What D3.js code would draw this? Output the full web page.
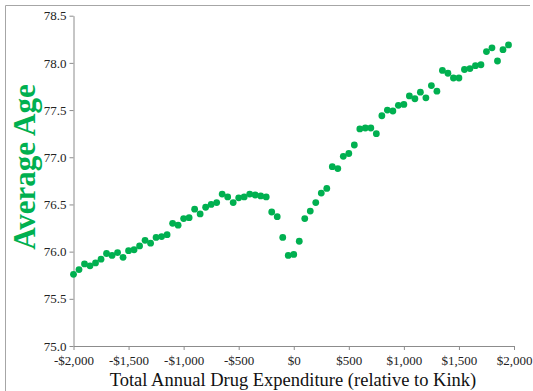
<!DOCTYPE html>
<html>
<head>
<meta charset="utf-8">
<script src="https://cdn.jsdelivr.net/npm/d3@7"></script>
<style>
  html, body { margin: 0; padding: 0; background: #fff; }
  svg { display: block; }
</style>
</head>
<body>
<svg id="chart" width="533" height="391"></svg>
<script>
// Bin centres of total annual drug expenditure, relative to the kink ($)
const expenditure = d3.range(-2000, 2000, 50);

// Average age of enrollees in each bin
const averageAge = [
  75.76, 75.81, 75.87, 75.85, 75.88, 75.92, 75.98, 75.96, 75.99, 75.94,
  76.01, 76.02, 76.06, 76.12, 76.09, 76.15, 76.16, 76.18, 76.30, 76.28,
  76.35, 76.36, 76.45, 76.40, 76.47, 76.50, 76.52, 76.61, 76.58, 76.52,
  76.57, 76.58, 76.61, 76.60, 76.59, 76.58, 76.42, 76.37, 76.15, 75.96,
  75.97, 76.11, 76.35, 76.43, 76.52, 76.62, 76.67, 76.90, 76.88, 77.01,
  77.04, 77.13, 77.30, 77.31, 77.31, 77.25, 77.44, 77.50, 77.49, 77.55,
  77.56, 77.65, 77.62, 77.69, 77.63, 77.76, 77.70, 77.92, 77.89, 77.84,
  77.84, 77.93, 77.94, 77.97, 77.98, 78.12, 78.16, 78.02, 78.14, 78.19
];

const xTicks = [-2000, -1500, -1000, -500, 0, 500, 1000, 1500, 2000];
const yTicks = [75.0, 75.5, 76.0, 76.5, 77.0, 77.5, 78.0, 78.5];

const xTitle = "Total Annual Drug Expenditure (relative to Kink)";
const yTitle = "Average Age";

const svg = d3.select("#chart");
const serif = "'Liberation Serif', 'Times New Roman', serif";
const axisGray = "#8c8c8c";
const green = "#00b050";

// outer frame
svg.append("line").attr("x1", 5.5).attr("x2", 530).attr("y1", 5.5).attr("y2", 5.5)
  .attr("stroke", "#a6a6a6").attr("stroke-width", 1);
svg.append("line").attr("x1", 5.5).attr("x2", 5.5).attr("y1", 5.5).attr("y2", 391)
  .attr("stroke", "#a6a6a6").attr("stroke-width", 1);

const x = d3.scaleLinear().domain([-2000, 2000]).range([73.5, 514]);
const y = d3.scaleLinear().domain([75, 78.5]).range([346, 15.7]);

const fmtMoney = d => (d < 0 ? "-" : "") + "$" + d3.format(",")(Math.abs(d));

const xAxis = svg.append("g")
  .attr("transform", `translate(0,${y(75)})`)
  .call(d3.axisBottom(x).tickValues(xTicks).tickFormat(fmtMoney).tickSize(4).tickSizeOuter(0));

const yAxis = svg.append("g")
  .attr("transform", `translate(${x(-2000)},0)`)
  .call(d3.axisLeft(y).tickValues(yTicks).tickFormat(d3.format(".1f")).tickSize(4).tickSizeOuter(0));

[xAxis, yAxis].forEach(g => {
  g.attr("font-family", serif);
  g.select(".domain").attr("stroke", axisGray);
  g.selectAll(".tick line").attr("stroke", axisGray);
  g.selectAll(".tick text")
    .attr("fill", "#222")
    .style("font-family", serif)
    .style("font-size", "13px");
});
xAxis.selectAll(".tick text").attr("dy", "0.9em");
yAxis.selectAll(".tick text").attr("x", -7);

// scatter points
svg.append("g").selectAll("circle")
  .data(expenditure.map((e, i) => ({ e, a: averageAge[i] })))
  .join("circle")
  .attr("cx", d => x(d.e))
  .attr("cy", d => y(d.a))
  .attr("r", 3.4)
  .attr("fill", green);

// axis titles
svg.append("text")
  .attr("x", 293).attr("y", 386)
  .attr("text-anchor", "middle")
  .style("font-family", serif)
  .style("font-size", "18.5px")
  .attr("fill", "#111")
  .text(xTitle);

svg.append("text")
  .attr("transform", "translate(35,167) rotate(-90)")
  .attr("text-anchor", "middle")
  .style("font-family", serif)
  .style("font-size", "31px")
  .style("font-weight", "bold")
  .attr("fill", green)
  .text(yTitle);
</script>
</body>
</html>
